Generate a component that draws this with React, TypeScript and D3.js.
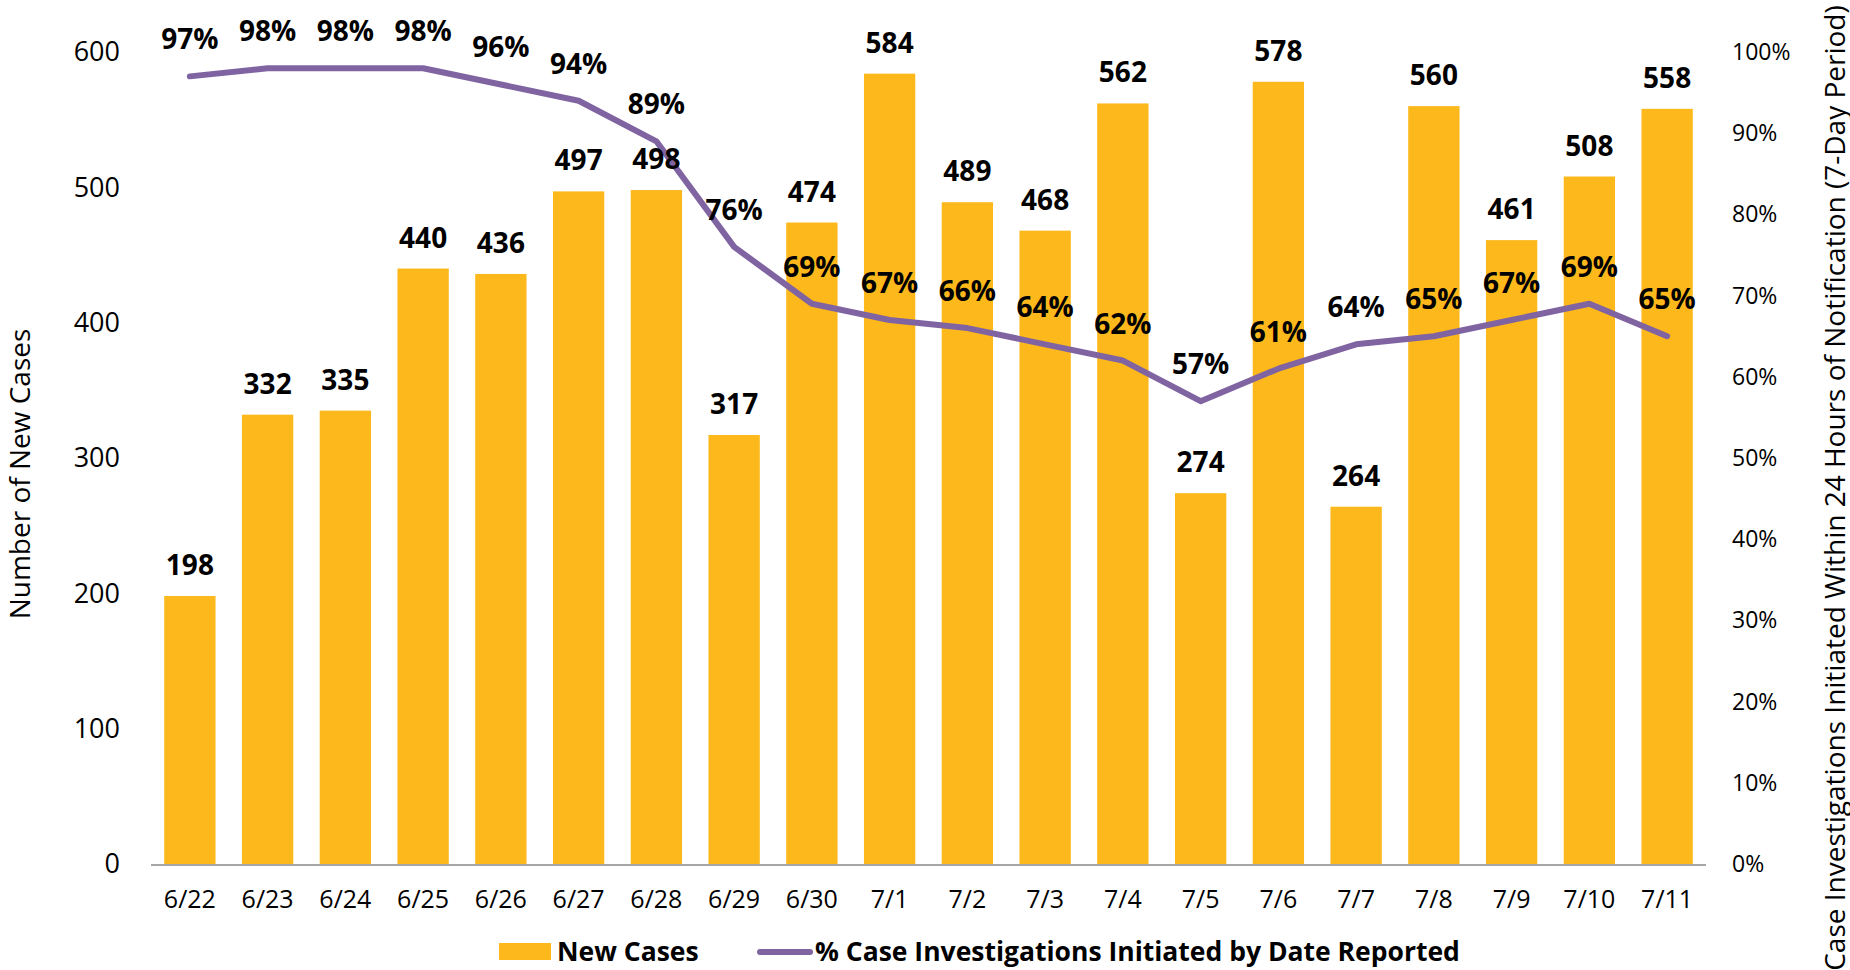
import React, { useEffect, useRef } from "react";
import * as d3 from "d3";

// chart data
const dates = ["6/22", "6/23", "6/24", "6/25", "6/26", "6/27", "6/28", "6/29", "6/30", "7/1",
    "7/2", "7/3", "7/4", "7/5", "7/6", "7/7", "7/8", "7/9", "7/10", "7/11"];
const newCases = [198, 332, 335, 440, 436, 497, 498, 317, 474, 584,
    489, 468, 562, 274, 578, 264, 560, 461, 508, 558];
const pctInitiated = [97, 98, 98, 98, 96, 94, 89, 76, 69, 67,
    66, 64, 62, 57, 61, 64, 65, 67, 69, 65];
const leftTicks = [0, 100, 200, 300, 400, 500, 600];
const rightTicks = [0, 10, 20, 30, 40, 50, 60, 70, 80, 90, 100];

const FONT = "'Open Sans', sans-serif";
const BAR_COLOR = "#FDB81B";
const LINE_COLOR = "#8064A2";

export default function App() {
    const ref = useRef<SVGSVGElement>(null);

    useEffect(() => {
        const svg = d3.select(ref.current);
        svg.selectAll("*").remove();

        const left = 151, right = 1706, top = 52, bottom = 864;

        // scales
        const xScale = d3.scaleBand<string>()
            .domain(dates)
            .range([left, right])
            .paddingInner(0.34)
            .paddingOuter(0.17);

        const yLeft = d3.scaleLinear().domain([0, 600]).range([bottom, top]);
        const yRight = d3.scaleLinear().domain([0, 100]).range([bottom, top]);

        // bars
        svg.append("g")
            .selectAll("rect")
            .data(newCases)
            .enter()
            .append("rect")
            .attr("x", (d, i) => xScale(dates[i])!)
            .attr("y", d => yLeft(d))
            .attr("width", xScale.bandwidth())
            .attr("height", d => bottom - yLeft(d))
            .attr("fill", BAR_COLOR);

        // x axis line
        svg.append("line")
            .attr("x1", left)
            .attr("x2", right)
            .attr("y1", bottom + 1)
            .attr("y2", bottom + 1)
            .attr("stroke", "#A6A6A6")
            .attr("stroke-width", 2);

        // left axis ticks
        svg.append("g")
            .selectAll("text")
            .data(leftTicks)
            .enter()
            .append("text")
            .attr("x", 120)
            .attr("y", d => yLeft(d))
            .attr("dy", "0.35em")
            .attr("text-anchor", "end")
            .attr("font-family", FONT)
            .attr("font-size", 27)
            .attr("fill", "#000")
            .text(d => d);

        // right axis ticks
        svg.append("g")
            .selectAll("text")
            .data(rightTicks)
            .enter()
            .append("text")
            .attr("x", 1732)
            .attr("y", d => yRight(d))
            .attr("dy", "0.35em")
            .attr("text-anchor", "start")
            .attr("font-family", FONT)
            .attr("font-size", 23)
            .attr("fill", "#000")
            .text(d => d + "%");

        // x tick labels
        svg.append("g")
            .selectAll("text")
            .data(dates)
            .enter()
            .append("text")
            .attr("x", d => xScale(d)! + xScale.bandwidth() / 2)
            .attr("y", 908)
            .attr("text-anchor", "middle")
            .attr("font-family", FONT)
            .attr("font-size", 25)
            .attr("fill", "#000")
            .text(d => d);

        // line
        const cx = (i: number) => xScale(dates[i])! + xScale.bandwidth() / 2;
        const line = d3.line<number>()
            .x((d, i) => cx(i))
            .y(d => yRight(d));

        svg.append("path")
            .datum(pctInitiated)
            .attr("d", line)
            .attr("fill", "none")
            .attr("stroke", LINE_COLOR)
            .attr("stroke-width", 6)
            .attr("stroke-linecap", "round")
            .attr("stroke-linejoin", "round");

        // bar value labels
        svg.append("g")
            .selectAll("text")
            .data(newCases)
            .enter()
            .append("text")
            .attr("x", (d, i) => cx(i))
            .attr("y", d => yLeft(d) - 21)
            .attr("text-anchor", "middle")
            .attr("font-family", FONT)
            .attr("font-weight", "bold")
            .attr("font-size", 28)
            .attr("fill", "#000")
            .text(d => d);

        // percent labels
        svg.append("g")
            .selectAll("text")
            .data(pctInitiated)
            .enter()
            .append("text")
            .attr("x", (d, i) => cx(i))
            .attr("y", d => yRight(d) - 27)
            .attr("text-anchor", "middle")
            .attr("font-family", FONT)
            .attr("font-weight", "bold")
            .attr("font-size", 28)
            .attr("fill", "#000")
            .text(d => d + "%");

        // axis titles
        svg.append("text")
            .attr("transform", "translate(30, 474) rotate(-90)")
            .attr("text-anchor", "middle")
            .attr("font-family", FONT)
            .attr("font-size", 28)
            .attr("fill", "#000")
            .text("Number of New Cases");

        svg.append("text")
            .attr("transform", "translate(1845, 488) rotate(-90)")
            .attr("text-anchor", "middle")
            .attr("font-family", FONT)
            .attr("font-size", 28)
            .attr("fill", "#000")
            .text("Case Investigations Initiated Within 24 Hours of Notification (7-Day Period)");

        // legend
        const legend = svg.append("g");
        legend.append("rect")
            .attr("x", 499)
            .attr("y", 943)
            .attr("width", 52)
            .attr("height", 17)
            .attr("fill", BAR_COLOR);
        legend.append("text")
            .attr("x", 557)
            .attr("y", 961)
            .attr("font-family", FONT)
            .attr("font-weight", "bold")
            .attr("font-size", 26.5)
            .attr("fill", "#000")
            .text("New Cases");
        legend.append("line")
            .attr("x1", 760)
            .attr("x2", 810)
            .attr("y1", 952)
            .attr("y2", 952)
            .attr("stroke", LINE_COLOR)
            .attr("stroke-width", 6)
            .attr("stroke-linecap", "round");
        legend.append("text")
            .attr("x", 815)
            .attr("y", 961)
            .attr("font-family", FONT)
            .attr("font-weight", "bold")
            .attr("font-size", 26.5)
            .attr("fill", "#000")
            .text("% Case Investigations Initiated by Date Reported");
    }, []);

    return (
        <svg ref={ref} width={1850} height={970}
             style={{ position: "absolute", left: 0, top: 0, background: "#fff" }} />
    );
}
